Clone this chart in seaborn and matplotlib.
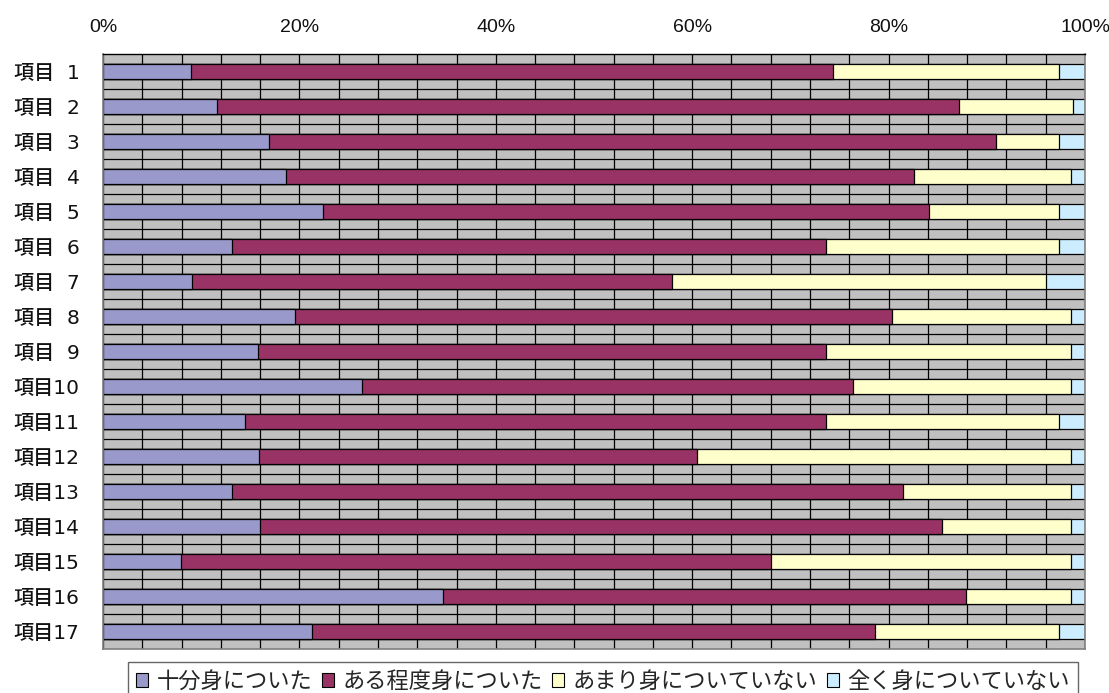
import numpy as np
import pandas as pd
import matplotlib
matplotlib.use("Agg")
import matplotlib.pyplot as plt
from matplotlib.patches import Patch
import seaborn as sns

# ---- data (percent) ----
categories = ["項目\u20071", "項目\u20072", "項目\u20073", "項目\u20074", "項目\u20075",
              "項目\u20076", "項目\u20077", "項目\u20078", "項目\u20079", "項目10",
              "項目11", "項目12", "項目13", "項目14", "項目15", "項目16", "項目17"]
series_names = ["十分身についた", "ある程度身についた", "あまり身についていない", "全く身についていない"]
fully = [9.0, 11.6, 16.9, 18.6, 22.4, 13.1, 9.1, 19.6, 15.8, 26.4, 14.5, 15.9, 13.1, 16.0, 7.9, 34.6, 21.3]
somewhat = [65.3, 75.6, 74.0, 64.0, 61.7, 60.5, 48.8, 60.7, 57.8, 50.0, 59.1, 44.6, 68.4, 69.4, 60.1, 53.3, 57.3]
little = [23.1, 11.6, 6.5, 16.0, 13.3, 23.8, 38.1, 18.3, 25.0, 22.2, 23.8, 38.1, 17.1, 13.2, 30.6, 10.7, 18.8]
none_ = [2.6, 1.2, 2.6, 1.4, 2.6, 2.6, 4.0, 1.4, 1.4, 1.4, 2.6, 1.4, 1.4, 1.4, 1.4, 1.4, 2.6]
xtick_vals = [0, 20, 40, 60, 80, 100]
xtick_labels = ["0%", "20%", "40%", "60%", "80%", "100%"]

colors = ["#9999CC", "#993366", "#FFFFCC", "#CCECFF"]

sns.set_style("white")
plt.rcParams['font.family'] = ['Noto Sans CJK JP', 'DejaVu Sans']

df = pd.DataFrame({"cat": categories, "s1": fully, "s2": somewhat, "s3": little, "s4": none_})
df["c1"] = df["s1"]
df["c2"] = df["c1"] + df["s2"]
df["c3"] = df["c2"] + df["s3"]
df["c4"] = df["c3"] + df["s4"]

fig = plt.figure(figsize=(11.09, 6.93), dpi=100)
ax = fig.add_axes([103/1109, 1 - 649/693, (1085 - 103)/1109, (649 - 54)/693])
ax.set_facecolor("#C0C0C0")
ax.set_axisbelow(True)

for col, c in zip(["c4", "c3", "c2", "c1"], colors[::-1]):
    sns.barplot(data=df, x=col, y="cat", orient="h", color=c, saturation=1,
                width=0.42, edgecolor="black", linewidth=0.9, ax=ax, order=categories)

ax.set_xlim(0, 100)
ax.set_ylim(16.5, -0.5)
ax.set_xlabel("")
ax.set_ylabel("")

ax.xaxis.tick_top()
ax.set_xticks(xtick_vals)
ax.set_xticklabels(xtick_labels, fontsize=14, family=['Liberation Sans', 'DejaVu Sans'],
                   color='#111111')
ax.set_xticks(np.arange(0, 101, 4), minor=True)
ax.tick_params(axis='x', which='both', length=0, pad=13)

ax.set_yticks(range(len(categories)))
ax.set_yticklabels(categories, fontsize=14.5, fontweight='medium',
                   family=['DejaVu Sans', 'Noto Sans CJK JP'], color='#111111')
ax.set_yticks(np.arange(0.5, 16.0, 1.0), minor=True)
ax.tick_params(axis='y', which='major', length=0, pad=17)
ax.tick_params(axis='y', which='minor', direction='in', length=7, width=1.5, color='#404040')

ax.grid(which='both', axis='x', color='black', linewidth=0.9)
ax.grid(which='minor', axis='y', color='black', linewidth=0.9)

for side in ["left", "right", "bottom"]:
    ax.spines[side].set_color("#808080")
    ax.spines[side].set_linewidth(1.2)
ax.spines["top"].set_color("black")
ax.spines["top"].set_linewidth(1.0)

handles = [Patch(facecolor=c, edgecolor="black", linewidth=0.8) for c in colors]
leg = fig.legend(handles, series_names, loc="upper left",
                 bbox_to_anchor=(128/1109, 1 - 662/693), ncol=4, fontsize=16,
                 frameon=True, fancybox=False, handlelength=0.55, handleheight=0.55,
                 handletextpad=0.4, columnspacing=0.4, borderpad=0.35, borderaxespad=0)
leg.get_frame().set_edgecolor("#404040")
leg.get_frame().set_linewidth(1.0)

fig.savefig("out.png", dpi=100)
